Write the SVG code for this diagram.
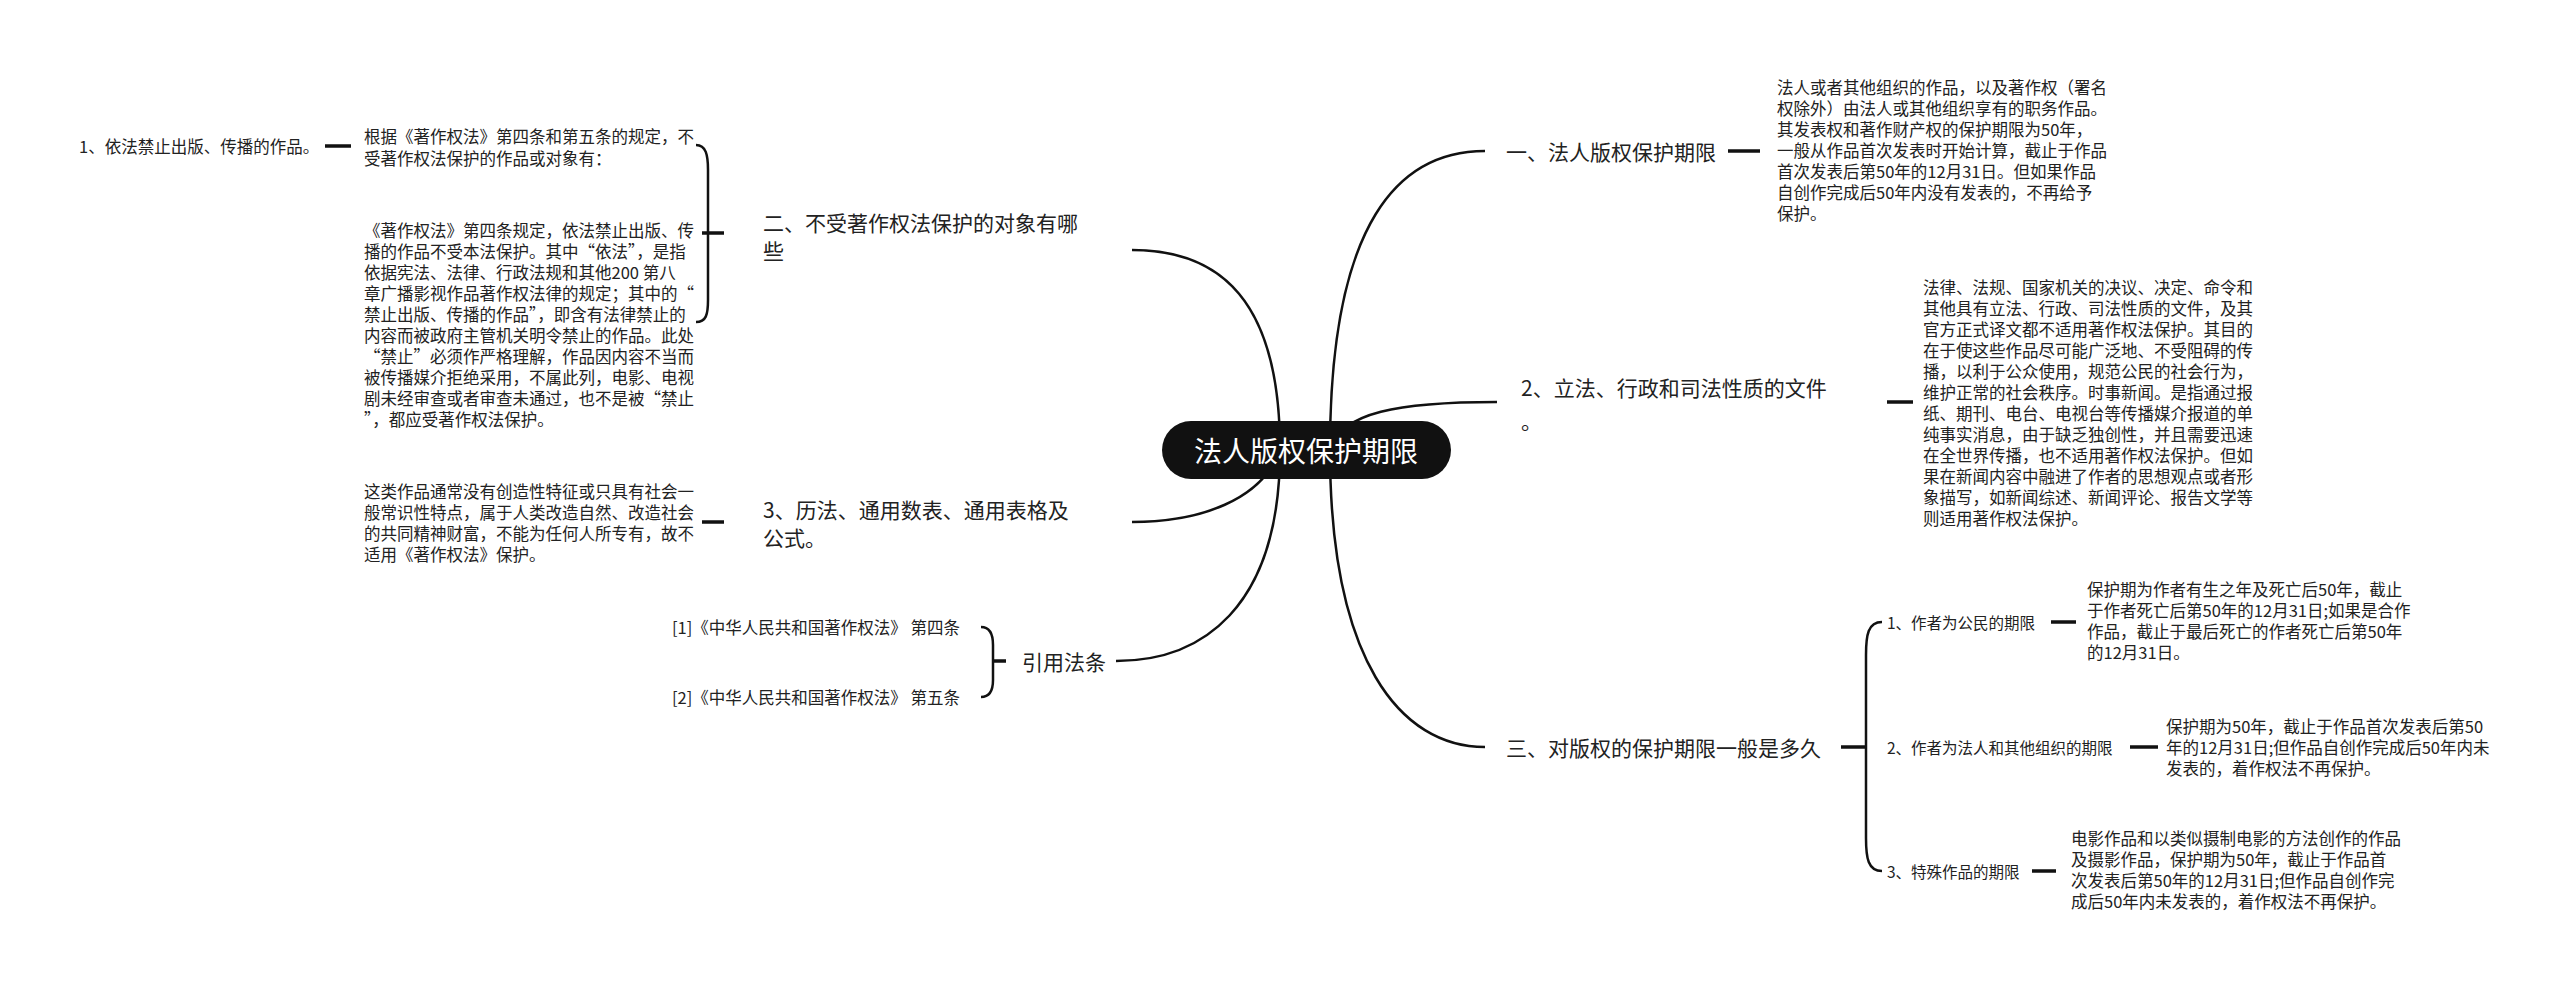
<svg xmlns="http://www.w3.org/2000/svg" width="2560" height="986" viewBox="0 0 2560 986">
<style>
text{font-family:"Noto Sans CJK SC","Noto Sans",sans-serif;fill:#222;dominant-baseline:central}
.b{font-size:21px}
.s{font-size:16.5px}
.m{font-size:15.5px}
.c path,.c line{fill:none;stroke:#111;stroke-width:2.5}
.d{stroke-width:3.5!important}
</style>
<rect width="2560" height="986" fill="#fff"/>
<g class="c" id="connectors">
<path d="M1330,450 C1330,220 1400,151 1485,151"/>
<path d="M1330,450 C1340,412 1400,402 1497,402"/>
<path d="M1330,450 C1330,660 1400,747 1485,747"/>
<path d="M1280,450 C1280,300 1220,250 1132,250"/>
<path d="M1280,450 C1262,500 1200,522 1132,522"/>
<path d="M1280,450 C1280,610 1200,661 1116,661"/>
<line class="d" x1="1728" y1="151" x2="1760" y2="151"/>
<line class="d" x1="1887" y1="402" x2="1913" y2="402"/>
<line class="d" x1="1841" y1="747" x2="1866" y2="747"/>
<path d="M1882,622 C1868,622 1866,635 1866,655 L1866,838 C1866,858 1868,871 1882,871"/>
<line class="d" x1="2051" y1="622" x2="2076" y2="622"/>
<line class="d" x1="2130" y1="747" x2="2158" y2="747"/>
<line class="d" x1="2032" y1="871" x2="2056" y2="871"/>
<line class="d" x1="702" y1="233" x2="724" y2="233"/>
<path d="M696,145 C706,145 708,155 708,170 L708,300 C708,315 706,322 696,322"/>
<line class="d" x1="325" y1="146" x2="351" y2="146"/>
<line class="d" x1="702" y1="522" x2="724" y2="522"/>
<line class="d" x1="993" y1="661" x2="1006" y2="661"/>
<path d="M981,627 C990,627 993,634 993,645 L993,680 C993,690 990,697 981,697"/>
</g>
<g id="root">
<rect x="1162" y="421" width="289" height="58" rx="29" fill="#111"/>
<text x="1306" y="450" text-anchor="middle" style="font-size:28px;fill:#fff">法人版权保护期限</text>
</g>
<g id="n1">
<text class="b" x="1506" y="151">一、法人版权保护期限</text>
</g>
<g id="n1d" class="s">
<text x="1777" y="87">法人或者其他组织的作品，以及著作权（署名</text>
<text x="1777" y="108">权除外）由法人或其他组织享有的职务作品。</text>
<text x="1777" y="129">其发表权和著作财产权的保护期限为50年，</text>
<text x="1777" y="150">一般从作品首次发表时开始计算，截止于作品</text>
<text x="1777" y="171">首次发表后第50年的12月31日。但如果作品</text>
<text x="1777" y="192">自创作完成后50年内没有发表的，不再给予</text>
<text x="1777" y="213">保护。</text>
</g>
<g id="n2">
<text class="b" x="1521" y="387">2、立法、行政和司法性质的文件</text>
<text class="b" x="1521" y="420">。</text>
</g>
<g id="n2d" class="s">
<text x="1923" y="287">法律、法规、国家机关的决议、决定、命令和</text>
<text x="1923" y="308">其他具有立法、行政、司法性质的文件，及其</text>
<text x="1923" y="329">官方正式译文都不适用著作权法保护。其目的</text>
<text x="1923" y="350">在于使这些作品尽可能广泛地、不受阻碍的传</text>
<text x="1923" y="371">播，以利于公众使用，规范公民的社会行为，</text>
<text x="1923" y="392">维护正常的社会秩序。时事新闻。是指通过报</text>
<text x="1923" y="413">纸、期刊、电台、电视台等传播媒介报道的单</text>
<text x="1923" y="434">纯事实消息，由于缺乏独创性，并且需要迅速</text>
<text x="1923" y="455">在全世界传播，也不适用著作权法保护。但如</text>
<text x="1923" y="476">果在新闻内容中融进了作者的思想观点或者形</text>
<text x="1923" y="497">象描写，如新闻综述、新闻评论、报告文学等</text>
<text x="1923" y="518">则适用著作权法保护。</text>
</g>
<g id="n3">
<text class="b" x="1506" y="747">三、对版权的保护期限一般是多久</text>
</g>
<g id="n3a"><text class="m" x="1887" y="622">1、作者为公民的期限</text></g>
<g id="n3ad" class="s">
<text x="2087" y="589">保护期为作者有生之年及死亡后50年，截止</text>
<text x="2087" y="610">于作者死亡后第50年的12月31日;如果是合作</text>
<text x="2087" y="631">作品，截止于最后死亡的作者死亡后第50年</text>
<text x="2087" y="652">的12月31日。</text>
</g>
<g id="n3b"><text class="m" x="1887" y="747">2、作者为法人和其他组织的期限</text></g>
<g id="n3bd" class="s">
<text x="2166" y="726">保护期为50年，截止于作品首次发表后第50</text>
<text x="2166" y="747">年的12月31日;但作品自创作完成后50年内未</text>
<text x="2166" y="768">发表的，着作权法不再保护。</text>
</g>
<g id="n3c"><text class="m" x="1887" y="871">3、特殊作品的期限</text></g>
<g id="n3cd" class="s">
<text x="2071" y="838">电影作品和以类似摄制电影的方法创作的作品</text>
<text x="2071" y="859">及摄影作品，保护期为50年，截止于作品首</text>
<text x="2071" y="880">次发表后第50年的12月31日;但作品自创作完</text>
<text x="2071" y="901">成后50年内未发表的，着作权法不再保护。</text>
</g>
<g id="n4">
<text class="b" x="763" y="222">二、不受著作权法保护的对象有哪</text>
<text class="b" x="763" y="250">些</text>
</g>
<g id="n4a" class="s">
<text x="364" y="136">根据《著作权法》第四条和第五条的规定，不</text>
<text x="364" y="158">受著作权法保护的作品或对象有：</text>
</g>
<g id="n4a1"><text class="s" x="79" y="146">1、依法禁止出版、传播的作品。</text></g>
<g id="n4b" class="s">
<text x="364" y="230">《著作权法》第四条规定，依法禁止出版、传</text>
<text x="364" y="251">播的作品不受本法保护。其中“依法”，是指</text>
<text x="364" y="272">依据宪法、法律、行政法规和其他200 第八</text>
<text x="364" y="293">章广播影视作品著作权法律的规定；其中的“</text>
<text x="364" y="314">禁止出版、传播的作品”，即含有法律禁止的</text>
<text x="364" y="335">内容而被政府主管机关明令禁止的作品。此处</text>
<text x="364" y="356">“禁止”必须作严格理解，作品因内容不当而</text>
<text x="364" y="377">被传播媒介拒绝采用，不属此列，电影、电视</text>
<text x="364" y="398">剧未经审查或者审查未通过，也不是被“禁止</text>
<text x="364" y="419">”，都应受著作权法保护。</text>
</g>
<g id="n5">
<text class="b" x="763" y="509">3、历法、通用数表、通用表格及</text>
<text class="b" x="763" y="537">公式。</text>
</g>
<g id="n5d" class="s">
<text x="364" y="491">这类作品通常没有创造性特征或只具有社会一</text>
<text x="364" y="512">般常识性特点，属于人类改造自然、改造社会</text>
<text x="364" y="533">的共同精神财富，不能为任何人所专有，故不</text>
<text x="364" y="554">适用《著作权法》保护。</text>
</g>
<g id="n6"><text class="b" x="1022" y="661">引用法条</text></g>
<g id="n6a"><text class="s" x="960" y="627" text-anchor="end">[1]《中华人民共和国著作权法》 第四条</text></g>
<g id="n6b"><text class="s" x="960" y="697" text-anchor="end">[2]《中华人民共和国著作权法》 第五条</text></g>
</svg>
